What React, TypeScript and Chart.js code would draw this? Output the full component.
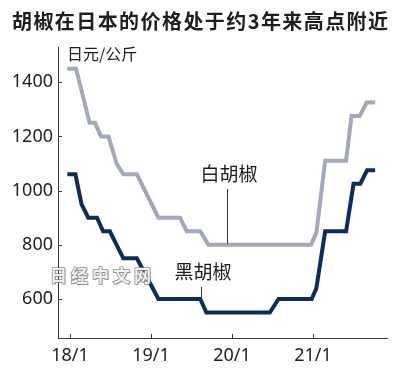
import React, { useEffect, useRef } from 'react';
import { Chart, registerables } from 'chart.js';

Chart.register(...registerables);

const TITLE = '胡椒在日本的价格处于约3年来高点附近';
const UNIT = '日元/公斤';
const WHITE_LABEL = '白胡椒';
const BLACK_LABEL = '黑胡椒';
const WATERMARK = '日经中文网';

// x values are months counted from 2018/1 (0 = 18/1)
const xTickMonths = [0, 12, 24, 36];
const xTickLabels = ['18/1', '19/1', '20/1', '21/1'];
const yTicks = [600, 800, 1000, 1200, 1400];

const whiteMonths = [-0.4, 0.9, 2.9, 3.7, 4.6, 5.7, 6.9, 7.9, 9.9, 13.1, 16.3, 17.3, 19.3, 20.5, 35.7, 36.5, 37.8, 40.9, 41.7, 42.9, 43.95, 45.2];
const whiteValues = [1450, 1450, 1250, 1250, 1200, 1200, 1100, 1060, 1060, 900, 900, 850, 850, 800, 800, 845, 1110, 1110, 1275, 1275, 1325, 1325];

const blackMonths = [-0.4, 0.8, 1.7, 2.7, 4.0, 4.9, 5.9, 7.9, 9.9, 13.1, 19.3, 20.2, 29.6, 30.9, 35.8, 36.5, 37.8, 40.9, 42.0, 43.0, 44.0, 45.2];
const blackValues = [1060, 1060, 950, 900, 900, 850, 850, 750, 750, 600, 600, 550, 550, 600, 600, 640, 850, 850, 1025, 1025, 1075, 1075];

const WHITE_COLOR = '#a3a7bb';
const BLACK_COLOR = '#0b2d5c';
const TEXT_COLOR = '#1e1e1e';
const AXIS_COLOR = '#3a3a3a';

const annotations = {
  id: 'annotations',
  afterDatasetsDraw(chart: any) {
    const { ctx, scales, chartArea } = chart;
    const xs = scales.x;
    const ys = scales.y;
    ctx.save();

    // inward tick marks
    ctx.strokeStyle = AXIS_COLOR;
    ctx.lineWidth = 1;
    ctx.beginPath();
    xTickMonths.forEach((m) => {
      const px = Math.round(xs.getPixelForValue(m)) + 0.5;
      ctx.moveTo(px, chartArea.bottom);
      ctx.lineTo(px, chartArea.bottom - 4);
    });
    yTicks.forEach((v) => {
      const py = Math.round(ys.getPixelForValue(v)) + 0.5;
      ctx.moveTo(chartArea.left, py);
      ctx.lineTo(chartArea.left + 4, py);
    });
    ctx.stroke();

    // series labels with leader lines
    const labels = [
      { text: WHITE_LABEL, month: 23.3, value: 800, len: 55 },
      { text: BLACK_LABEL, month: 19.4, value: 600, len: 11 },
    ];
    ctx.font = '19px "Noto Sans CJK SC"';
    ctx.textAlign = 'center';
    ctx.textBaseline = 'middle';
    labels.forEach((l) => {
      const px = Math.round(xs.getPixelForValue(l.month)) + 0.5;
      const py = ys.getPixelForValue(l.value) - 1;
      ctx.strokeStyle = '#333';
      ctx.lineWidth = 1;
      ctx.beginPath();
      ctx.moveTo(px, py);
      ctx.lineTo(px, py - l.len);
      ctx.stroke();
      ctx.fillStyle = TEXT_COLOR;
      ctx.fillText(l.text, px + 1.5, py - l.len - 15);
    });

    // watermark
    ctx.font = 'bold 17px "Noto Sans CJK SC"';
    ctx.textAlign = 'left';
    (ctx as any).letterSpacing = '4px';
    ctx.fillStyle = 'rgba(120,120,120,0.6)';
    ctx.fillText(WATERMARK, 51, 277);
    ctx.lineWidth = 1.5;
    ctx.strokeStyle = 'rgba(130,130,130,0.9)';
    ctx.strokeText(WATERMARK, 50, 276);
    ctx.fillStyle = 'rgba(245,245,245,0.95)';
    ctx.fillText(WATERMARK, 50, 276);
    (ctx as any).letterSpacing = '0px';

    // unit label
    ctx.font = '16px "Noto Sans CJK SC"';
    ctx.fillStyle = TEXT_COLOR;
    ctx.textAlign = 'left';
    ctx.textBaseline = 'middle';
    ctx.fillText(UNIT, chartArea.left + 9, 54);

    // title, fitted to span x 12..388
    ctx.font = 'bold 20px "Noto Sans CJK SC"';
    (ctx as any).letterSpacing = '0px';
    const w = ctx.measureText(TITLE).width;
    const n = Array.from(TITLE).length;
    const spacing = Math.max(-2, Math.min(3, (376 - w) / (n - 1)));
    (ctx as any).letterSpacing = spacing + 'px';
    ctx.textAlign = 'left';
    ctx.fillText(TITLE, 12, 21);
    (ctx as any).letterSpacing = '0px';

    ctx.restore();
  },
};

export default function App() {
  const canvasRef = useRef<HTMLCanvasElement | null>(null);

  useEffect(() => {
    document.body.style.margin = '0';
    document.body.style.background = '#fff';
    const canvas = canvasRef.current;
    if (!canvas) return;
    const toPoints = (ms: number[], vs: number[]) => ms.map((m, i) => ({ x: m, y: vs[i] }));
    const chart = new Chart(canvas, {
      type: 'line',
      data: {
        datasets: [
          {
            label: WHITE_LABEL,
            data: toPoints(whiteMonths, whiteValues),
            borderColor: WHITE_COLOR,
            borderWidth: 4,
            pointRadius: 0,
            tension: 0,
            fill: false,
          },
          {
            label: BLACK_LABEL,
            data: toPoints(blackMonths, blackValues),
            borderColor: BLACK_COLOR,
            borderWidth: 4,
            pointRadius: 0,
            tension: 0,
            fill: false,
          },
        ],
      },
      options: {
        animation: false,
        responsive: false,
        devicePixelRatio: 1,
        layout: { padding: { top: 47, right: 13, left: 0, bottom: 0 } },
        plugins: {
          legend: { display: false },
          tooltip: { enabled: false },
          title: { display: false },
        },
        scales: {
          x: {
            type: 'linear',
            min: -1.78,
            max: 46.96,
            afterBuildTicks: (axis: any) => {
              axis.ticks = xTickMonths.map((v) => ({ value: v }));
            },
            afterFit: (axis: any) => {
              axis.height = 38;
            },
            grid: { display: false, drawTicks: false },
            border: { display: true, color: AXIS_COLOR, width: 1 },
            ticks: {
              autoSkip: false,
              maxRotation: 0,
              padding: 7,
              color: TEXT_COLOR,
              font: { family: '"Noto Sans"', size: 18 },
              callback: (value: any) => {
                const i = xTickMonths.indexOf(Number(value));
                return i >= 0 ? xTickLabels[i] : '';
              },
            },
          },
          y: {
            type: 'linear',
            min: 456,
            max: 1530,
            afterBuildTicks: (axis: any) => {
              axis.ticks = yTicks.map((v) => ({ value: v }));
            },
            afterFit: (axis: any) => {
              axis.width = 58;
            },
            grid: { display: false, drawTicks: false },
            border: { display: true, color: AXIS_COLOR, width: 1 },
            ticks: {
              padding: 5,
              color: TEXT_COLOR,
              font: { family: '"Noto Sans"', size: 18 },
              callback: (value: any) => String(value),
            },
          },
        },
      },
      plugins: [annotations],
    });
    return () => chart.destroy();
  }, []);

  return (
    <div style={{ width: 400, height: 376, position: 'relative', background: '#fff' }}>
      <canvas ref={canvasRef} width={400} height={376} style={{ display: 'block', width: 400, height: 376 }} />
    </div>
  );
}
